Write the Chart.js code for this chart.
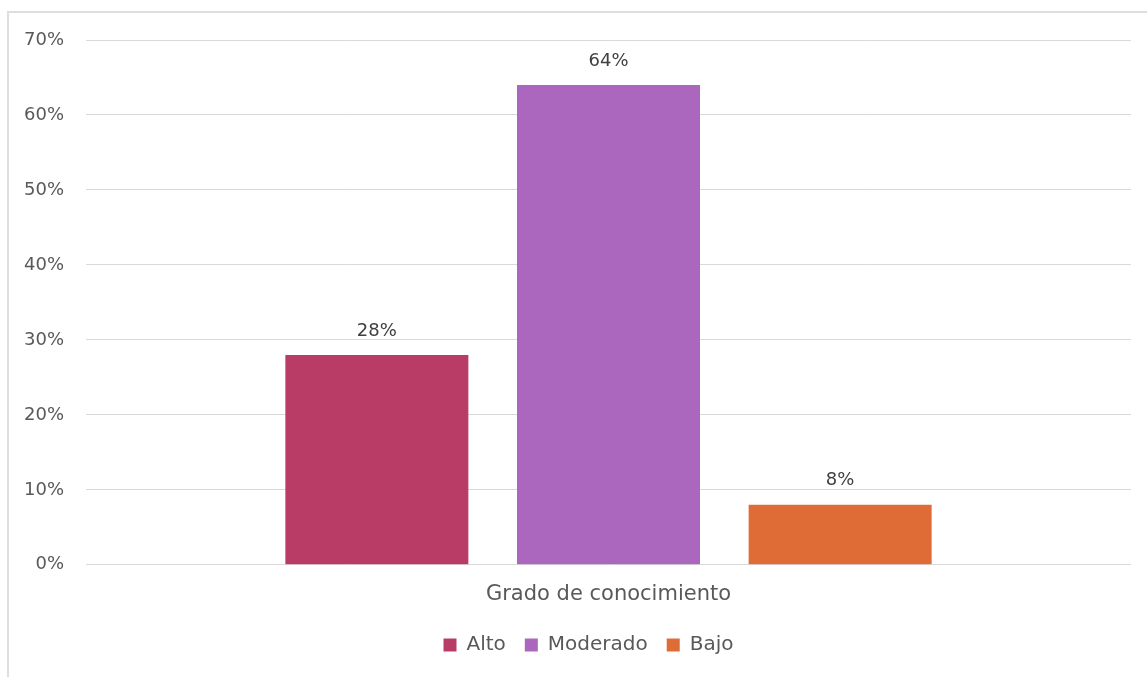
<!DOCTYPE html>
<meta charset="utf-8">
<html lang="es">
<head>
  <title>Grado de conocimiento</title>
  <style type="text/css">
  html, body { margin: 0; padding: 0; background: #ffffff; }
  #wrap { position: relative; width: 1147px; height: 677px; }
  #frame { position: absolute; left: 7px; top: 11px; right: -4px; bottom: -4px;
           border-left: 2px solid #dedede; border-top: 2px solid #dedede; pointer-events: none; }
  canvas { display: block; }
  </style>
</head>
<body>

<div id="wrap">
  <canvas id="myChart" width="1147" height="677"></canvas>
  <div id="frame"></div>
</div>

<script src="https://cdn.jsdelivr.net/npm/chart.js"></script>

<script>

  // one category, one dataset per level
  const categories = ['Grado de conocimiento'];
  const seriesNames = ['Alto', 'Moderado', 'Bajo'];
  const seriesValues = [28, 64, 8];
  const seriesColors = ['#b83c66', '#ab66bd', '#df6c36'];
  const yTicks = [0, 10, 20, 30, 40, 50, 60, 70];

  const TXT = '#595959';
  const GRID = '#d9d9d9';
  const FONT = '"DejaVu Sans", sans-serif';

  // value labels above each bar
  const valueLabels = {
    id: 'valueLabels',
    afterDatasetsDraw(chart) {
      const c = chart.ctx;
      c.save();
      c.fillStyle = '#404040';
      c.font = '18px ' + FONT;
      c.textAlign = 'center';
      c.textBaseline = 'bottom';
      chart.data.datasets.forEach((ds, i) => {
        const meta = chart.getDatasetMeta(i);
        meta.data.forEach((bar, j) => {
          c.fillText(ds.data[j] + '%', bar.x, bar.y - 15);
        });
      });
      c.restore();
    }
  };

  // legend sits centred under the plot area, not the whole canvas
  const legendShift = {
    id: 'legendShift',
    afterLayout(chart) {
      const lg = chart.legend;
      const mid = (chart.chartArea.left + chart.chartArea.right) / 2 - 20;
      const dx = mid - (lg.left + lg.right) / 2;
      lg.left += dx;
      lg.right += dx;
    }
  };

  const datasets = seriesNames.map((name, i) => ({
    label: name,
    data: [seriesValues[i]],
    backgroundColor: seriesColors[i],
    borderWidth: 0,
    categoryPercentage: 0.665,
    barPercentage: 0.79
  }));

  const ctx = document.getElementById('myChart');

  const our_chart = new Chart(ctx, {
    type: 'bar',
    data: { labels: categories, datasets: datasets },
    plugins: [valueLabels, legendShift],
    options: {
      responsive: false,
      animation: false,
      layout: { padding: { top: 40, right: 16, left: 0, bottom: 12 } },
      plugins: {
        tooltip: { enabled: false },
        legend: {
          position: 'bottom',
          labels: {
            color: TXT,
            boxWidth: 13,
            boxHeight: 13,
            padding: 19,
            font: { family: FONT, size: 20 }
          }
        }
      },
      scales: {
        x: {
          grid: { display: false },
          border: { display: false },
          ticks: {
            color: TXT,
            padding: 9,
            font: { family: FONT, size: 21 }
          }
        },
        y: {
          min: 0, max: 70,
          afterBuildTicks: (axis) => { axis.ticks = yTicks.map(v => ({ value: v })); },
          afterFit: (axis) => { axis.width = 86; },
          grid: { color: GRID, lineWidth: 1, drawTicks: false },
          border: { display: false },
          ticks: {
            color: TXT,
            padding: 22,
            callback: (v) => v + '%',
            font: { family: FONT, size: 18 }
          }
        }
      }
    }
  });

</script>
</body>
</html>
